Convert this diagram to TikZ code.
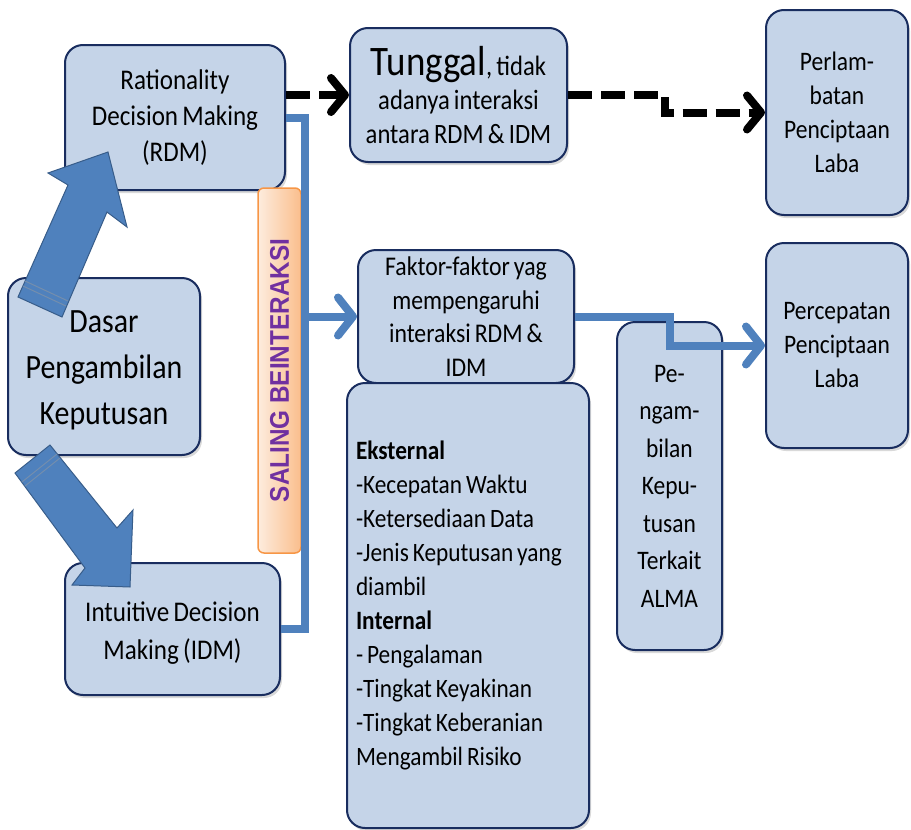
\documentclass[tikz,border=0pt]{standalone}
\usepackage{fontspec}
\setmainfont{Carlito}[FakeStretch=0.88, WordSpace=0.75]
\newfontfamily\boldsans{Liberation Sans}[FakeStretch=0.9]
\usetikzlibrary{arrows.meta,shadows,calc}
\definecolor{boxfill}{RGB}{197,212,232}
\definecolor{boxline}{RGB}{25,45,95}
\definecolor{bluearr}{RGB}{79,129,189}
\definecolor{bluearrdark}{RGB}{56,93,138}
\definecolor{orline}{RGB}{247,150,70}
\definecolor{orlight}{RGB}{253,236,222}
\definecolor{ordark}{RGB}{250,190,140}
\definecolor{purp}{RGB}{112,48,160}
\begin{document}
\begin{tikzpicture}[x=1pt,y=-1pt,
  box/.style={draw=boxline, line width=2pt, fill=boxfill, rounded corners=18pt,
    align=center, inner sep=0pt,
    drop shadow={opacity=0.3, shadow xshift=2pt, shadow yshift=-3pt}},
  bluecon/.style={draw=bluearr, line width=8pt},
  bluetip/.style={-{Straight Barb[length=15pt,width=38pt,round]}},
  blackdash/.style={draw=black, line width=8pt, dash pattern=on 24pt off 9pt,
    -{Straight Barb[length=14pt,width=34pt,round]}},
  blockarrow/.style={fill=bluearr, draw=bluearrdark, line width=1pt, line join=miter},
]
\useasboundingbox (0,0) rectangle (911,830);

% boxes
\node[box, font=\fontsize{28.5}{36}\selectfont, minimum width=220pt, minimum height=145pt] (RDM) at (175,117.5)
  {Rationality\\Decision Making\\(RDM)};
\node[box, font=\fontsize{34}{46}\selectfont, minimum width=192pt, minimum height=177pt] (DPK) at (104,366.5)
  {\rule{0pt}{30pt}Dasar\\Pengambilan\\Keputusan};
\node[box, font=\fontsize{28.5}{38}\selectfont, minimum width=215pt, minimum height=132pt] (IDM) at (172.5,629)
  {\rule{0pt}{28pt}Intuitive Decision\\Making (IDM)};
\node[box, font=\fontsize{28}{34}\selectfont, minimum width=217pt, minimum height=134pt] (TUN) at (458.5,95)
  {{\fontsize{42}{36}\selectfont Tunggal}, tidak\\adanya interaksi\\antara RDM \& IDM};
\node[box, font=\fontsize{26.7}{34}\selectfont, minimum width=142pt, minimum height=205pt] (PERL) at (837,112.5)
  {Perlam-\\batan\\Penciptaan\\Laba};
\node[box, font=\fontsize{27}{33.5}\selectfont, minimum width=216pt, minimum height=133pt] (FAK) at (466,316.5)
  {Faktor-faktor yag\\mempengaruhi\\interaksi RDM \&\\IDM};
\node[box, font=\fontsize{26.7}{34}\selectfont, minimum width=142pt, minimum height=205pt] (PERC) at (837,345.5)
  {Percepatan\\Penciptaan\\Laba};
\node[box, font=\fontsize{26.5}{34}\selectfont, minimum width=242pt, minimum height=445pt,
  text width=224pt, align=flush left] (LIST) at (468,605.5)
  {\textbf{Eksternal}\\-Kecepatan Waktu\\-Ketersediaan Data\\-Jenis Keputusan yang\\diambil\\\textbf{Internal}\\- Pengalaman\\-Tingkat Keyakinan\\-Tingkat Keberanian\\Mengambil Risiko};
\node[box, font=\fontsize{26.7}{37.5}\selectfont, minimum width=105pt, minimum height=328pt] (PENG) at (669.5,486)
  {Pe-\\ngam-\\bilan\\Kepu-\\tusan\\Terkait\\ALMA};

% orange box
\node[draw=orline, line width=1.5pt, rounded corners=6pt, left color=orlight, right color=ordark,
  minimum width=43pt, minimum height=365pt, inner sep=0pt] (SAL) at (279.5,370.5) {};
\node[rotate=90, text=purp, font=\boldsans\bfseries\fontsize{27}{30}\selectfont] (SALT) at (SAL.center) {SALING BEINTERAKSI};

% blue interaction line
\coordinate (spine) at (305,0);
\draw[bluecon, line join=miter] (RDM.east) -- (RDM.east -| spine) -- (IDM.east -| spine) -- (IDM.east);
\draw[bluecon, bluetip] (spine |- FAK.west) -- (FAK.west);

% blue arrow to Percepatan
\coordinate (bend) at (670,0);
\draw[bluecon, bluetip, line join=miter] (FAK.east) -- (FAK.east -| bend) -- (bend |- PERC.west) -- (PERC.west);

% black dashed arrows
\draw[blackdash] (RDM.east |- TUN.west) -- (TUN.west);
\coordinate (dbend) at (665,0);
\draw[blackdash] (TUN.east) -- (TUN.east -| dbend) -- (dbend |- PERL.west) -- (PERL.west);

% block arrows
\draw[blockarrow] (18,297) -- (68,185) -- (48,173) -- (108,152) -- (127,227) -- (107,212) -- (62,317) -- cycle;
\draw[bluearrdark!70!white, line width=1pt] (23,286) -- (66,306) (25,281) -- (68,301);
\draw[blockarrow] (15,473) -- (85,568) -- (72,585) -- (130,587) -- (133,510) -- (117,528) -- (50,445) -- cycle;
\draw[bluearrdark!70!white, line width=1pt] (22,482) -- (57,454) (25,486) -- (60,458);
\end{tikzpicture}
\end{document}
